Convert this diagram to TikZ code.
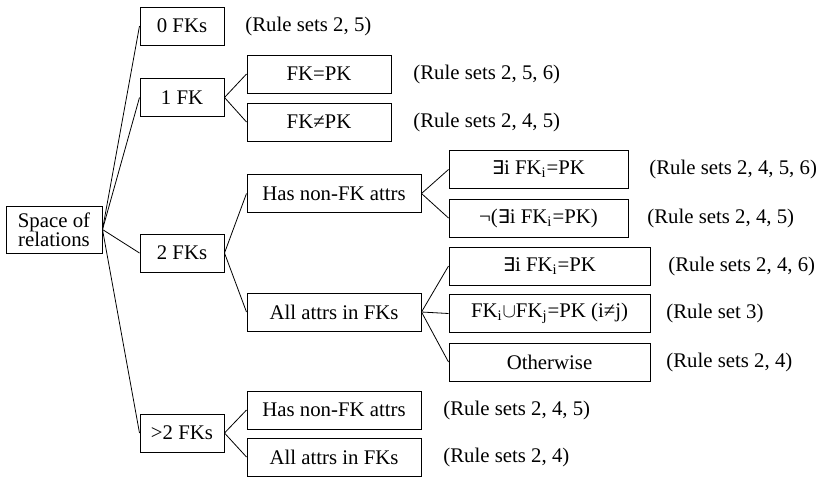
\documentclass[tikz,border=0pt]{standalone}
\usepackage{fontspec}
\setmainfont{Liberation Serif}
\newfontfamily\simbolo{DejaVu Sans}
\newcommand{\existe}{{\simbolo\fontsize{9.5pt}{10pt}\selectfont ∃}}
\begin{document}
\begin{tikzpicture}
    [ x=0.5pt, y=-0.5pt, font=\fontsize{10.4pt}{11pt}\selectfont,
      caixa/.style={draw, line width=0.5pt, inner sep=0pt, minimum height=19pt, align=center},
      regra/.style={anchor=west, inner sep=0pt} ]

    \useasboundingbox (0,0) rectangle (825,477);

    \node (sor) at (54,229.5) [caixa, minimum width=48pt, minimum height=23.5pt] {Space of\\[-1.5pt]relations};

    \node (n0) at (182,26) [caixa, minimum width=42pt] {0 FKs};
    \node (n1) at (182,97.5) [caixa, minimum width=42pt] {1 FK};
    \node (n2) at (182,253) [caixa, minimum width=42pt] {2 FKs};
    \node (n3) at (182,433) [caixa, minimum width=42pt] {>2 FKs};

    \node (eq) at (319,74) [caixa, minimum width=72pt] {FK=PK};
    \node (neq) at (319,122) [caixa, minimum width=72pt] {FK≠PK};

    \node (h2) at (334,193.5) [caixa, minimum width=87pt] {Has non-FK attrs};
    \node (a2) at (334,312) [caixa, minimum width=87pt] {All attrs in FKs};
    \node (h3) at (334,410) [caixa, minimum width=87pt] {Has non-FK attrs};
    \node (a3) at (334,457) [caixa, minimum width=87pt] {All attrs in FKs};

    \node (e1) at (538.5,169.5) [caixa, minimum width=89.5pt] {\existe i FK\textsubscript{i}=PK};
    \node (ne1) at (538.5,218) [caixa, minimum width=89.5pt] {¬(\existe i FK\textsubscript{i}=PK)};
    \node (e2) at (549.5,266) [caixa, minimum width=100.5pt] {\existe i FK\textsubscript{i}=PK};
    \node (u2) at (549.5,313.5) [caixa, minimum width=100.5pt] {FK\textsubscript{i}$\cup$FK\textsubscript{j}=PK (i≠j)};
    \node (o2) at (549.5,362) [caixa, minimum width=100.5pt] {Otherwise};

    % regras
    \node (r0) at (245,26) [regra] {(Rule sets 2, 5)};
    \node (r1) at (413,74) [regra] {(Rule sets 2, 5, 6)};
    \node (r2) at (413,122) [regra] {(Rule sets 2, 4, 5)};
    \node (r3) at (649,169.5) [regra] {(Rule sets 2, 4, 5, 6)};
    \node (r4) at (647,218) [regra] {(Rule sets 2, 4, 5)};
    \node (r5) at (668,266) [regra] {(Rule sets 2, 4, 6)};
    \node (r6) at (666,313.5) [regra] {(Rule set 3)};
    \node (r7) at (666,362) [regra] {(Rule sets 2, 4)};
    \node (r8) at (443,410) [regra] {(Rule sets 2, 4, 5)};
    \node (r9) at (443,457) [regra] {(Rule sets 2, 4)};

    \draw (sor.east) -- (n0.west);
    \draw (sor.east) -- (n1.west);
    \draw (sor.east) -- (n2.west);
    \draw (sor.east) -- (n3.west);

    \draw (n1.east) -- (eq.west);
    \draw (n1.east) -- (neq.west);

    \draw (n2.east) -- (h2.west);
    \draw (n2.east) -- (a2.west);
    \draw (n3.east) -- (h3.west);
    \draw (n3.east) -- (a3.west);

    \draw (h2.east) -- (e1.west);
    \draw (h2.east) -- (ne1.west);
    \draw (a2.east) -- (e2.west);
    \draw (a2.east) -- (u2.west);
    \draw (a2.east) -- (o2.west);

\end{tikzpicture}
\end{document}
